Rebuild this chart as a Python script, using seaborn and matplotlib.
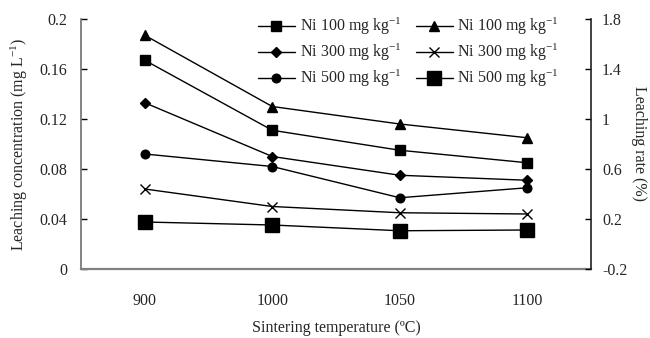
import numpy as np
import pandas as pd
import matplotlib
matplotlib.use("Agg")
import matplotlib.pyplot as plt
import seaborn as sns

# ---- data ----
temperatures = ["900", "1000", "1050", "1100"]
conc_ni100 = [0.167, 0.111, 0.095, 0.085]   # left axis, small square
conc_ni300 = [0.133, 0.090, 0.075, 0.071]   # left axis, diamond
conc_ni500 = [0.092, 0.082, 0.057, 0.065]   # left axis, circle
rate_ni100 = [1.67, 1.10, 0.96, 0.85]       # right axis, triangle
rate_ni300 = [0.44, 0.30, 0.25, 0.24]       # right axis, x
rate_ni500 = [0.176, 0.152, 0.106, 0.112]   # right axis, big square
left_ticks = [0, 0.04, 0.08, 0.12, 0.16, 0.2]
left_ticklabels = ["0", "0.04", "0.08", "0.12", "0.16", "0.2"]
right_ticks = [-0.2, 0.2, 0.6, 1.0, 1.4, 1.8]
right_ticklabels = ["-0.2", "0.2", "0.6", "1", "1.4", "1.8"]
label_txt = "Ni {} mg kg$^{{-1}}$"

sns.set_theme(style="white")
plt.rcParams["font.family"] = ["Liberation Serif", "DejaVu Serif"]
plt.rcParams["mathtext.fontset"] = "custom"
plt.rcParams["mathtext.rm"] = "Liberation Serif"
plt.rcParams["mathtext.it"] = "Liberation Serif:italic"
FS = 11.5

fig = plt.figure(figsize=(6.5, 3.38), dpi=100)
ax = fig.add_axes([81/650, 1-269/338, (591-81)/650, (269-19)/338])
ax2 = ax.twinx()

xpos = np.arange(len(temperatures))

left_series = [(conc_ni100, "s", 6.5, "100"), (conc_ni300, "D", 5.0, "300"), (conc_ni500, "o", 6.2, "500")]
right_series = [(rate_ni100, "^", 7.0, "100"), (rate_ni300, "x", 6.5, "300"), (rate_ni500, "s", 9.5, "500")]

handles = []
for vals, mk, ms, nm in left_series:
    df = pd.DataFrame({"x": xpos, "y": vals})
    sns.lineplot(data=df, x="x", y="y", ax=ax, color="black", linewidth=1.0,
                 marker=mk, markersize=ms, markeredgecolor="black",
                 markerfacecolor="black", markeredgewidth=1.0)
    handles.append(ax.lines[-1])
for vals, mk, ms, nm in right_series:
    df = pd.DataFrame({"x": xpos, "y": vals})
    sns.lineplot(data=df, x="x", y="y", ax=ax2, color="black", linewidth=1.0,
                 marker=mk, markersize=ms, markeredgecolor="black",
                 markerfacecolor="black", markeredgewidth=1.0)
    handles.append(ax2.lines[-1])
labels = [label_txt.format(s[3]) for s in left_series] + [label_txt.format(s[3]) for s in right_series]

ax.set_xlim(-0.5, len(temperatures) - 0.5)
ax.set_ylim(0, 0.2)
ax2.set_ylim(-0.2, 1.8)

ax.set_xticks(xpos)
ax.set_xticklabels(temperatures, fontsize=FS)
ax.set_xticks(xpos[:-1] + 0.5, minor=True)
ax.tick_params(axis="x", which="major", length=0, pad=17)
ax.tick_params(axis="x", which="minor", direction="in", length=4, width=1, color="black")

ax.set_yticks(left_ticks)
ax.set_yticklabels(left_ticklabels, fontsize=FS)
ax.tick_params(axis="y", direction="in", length=4, width=1, color="black", pad=10, left=True)
ax2.set_yticks(right_ticks)
ax2.set_yticklabels(right_ticklabels, fontsize=FS)
ax2.tick_params(axis="y", direction="in", length=4, width=1, color="black", pad=8, right=True)

for a in (ax, ax2):
    a.spines["top"].set_visible(False)
    a.grid(False)
ax.spines["right"].set_visible(False)
ax2.spines["left"].set_visible(False)
ax2.spines["bottom"].set_visible(False)
ax.spines["left"].set_color("#6e6e6e")
ax.spines["left"].set_linewidth(1.2)
ax.spines["bottom"].set_color("#808080")
ax.spines["bottom"].set_linewidth(1.6)
ax2.spines["right"].set_color("#202020")
ax2.spines["right"].set_linewidth(1.2)

ax.set_xlabel("Sintering temperature (ºC)", fontsize=FS, labelpad=8)
ax.set_ylabel("Leaching concentration (mg L$^{-1}$)", fontsize=FS, labelpad=7)
ax2.set_ylabel("Leaching rate (%)", fontsize=FS, rotation=270, labelpad=14)

fig.legend(handles, labels, loc="upper left", bbox_to_anchor=(258/650, 1-16/338),
           ncol=2, frameon=False, fontsize=FS, handlelength=2.3, handletextpad=0.3,
           columnspacing=0.9, labelspacing=0.3, borderpad=0, borderaxespad=0)

fig.savefig("out.png", dpi=100)
